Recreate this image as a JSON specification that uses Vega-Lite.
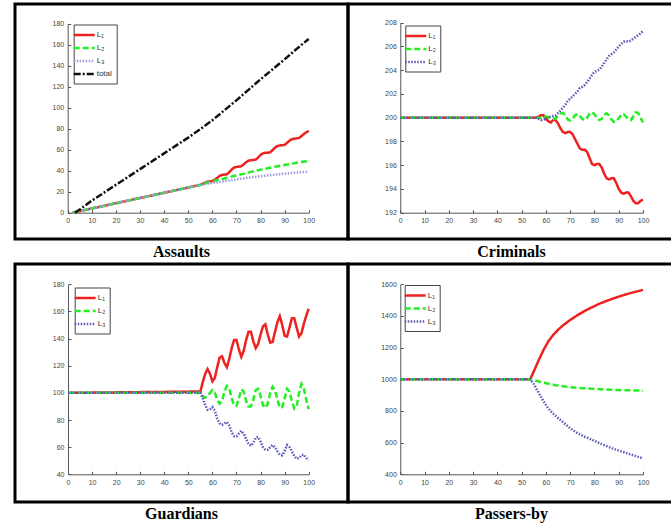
{
"$schema": "https://vega.github.io/schema/vega-lite/v6.json",
"background": "white",
"padding": {"left": 13, "top": 2, "right": 0, "bottom": 0},
"columns": 2,
"spacing": 0,
"bounds": "flush",
"config": {
  "view": {"stroke": "black", "strokeWidth": 3},
  "concat": {"spacing": 0},
  "axis": {"grid": false, "title": null, "domainColor": "#555", "tickColor": "#555", "labelColor": "#444", "labelFont": "Liberation Sans", "labelFontSize": 7, "tickSize": -3, "labelPadding": 7, "labelOverlap": false, "labelFlush": false, "domainWidth": 1, "tickWidth": 1},
  "legend": {"orient": "none", "title": null, "strokeColor": "#444", "fillColor": "white", "padding": 4, "labelFont": "Liberation Sans", "labelFontSize": 8, "labelColor": "#333", "symbolType": "M-2,0H2", "symbolSize": 110, "rowPadding": 1, "labelOffset": 6, "cornerRadius": 0}
},
"datasets": {
"assaults": [
{"x":2,"s":"L₁","v":0},{"x":10,"s":"L₁","v":4},{"x":20,"s":"L₁","v":9},{"x":30,"s":"L₁","v":14},{"x":40,"s":"L₁","v":19},{"x":50,"s":"L₁","v":24},{"x":55,"s":"L₁","v":26.5},
{"x":56,"s":"L₁","v":27.5},{"x":57,"s":"L₁","v":28.5},{"x":58,"s":"L₁","v":29.5},{"x":59,"s":"L₁","v":29.8},{"x":60,"s":"L₁","v":30},{"x":61,"s":"L₁","v":31.5},{"x":62,"s":"L₁","v":33},{"x":63,"s":"L₁","v":35},{"x":64,"s":"L₁","v":36},{"x":65,"s":"L₁","v":36.3},{"x":66,"s":"L₁","v":36.5},{"x":67,"s":"L₁","v":38.5},{"x":68,"s":"L₁","v":41},{"x":69,"s":"L₁","v":43},{"x":70,"s":"L₁","v":43.5},{"x":71,"s":"L₁","v":44},{"x":72,"s":"L₁","v":44.2},{"x":73,"s":"L₁","v":46},{"x":74,"s":"L₁","v":48},{"x":75,"s":"L₁","v":49.5},{"x":76,"s":"L₁","v":50},{"x":77,"s":"L₁","v":50.2},{"x":78,"s":"L₁","v":50.5},{"x":79,"s":"L₁","v":52.5},{"x":80,"s":"L₁","v":55},{"x":81,"s":"L₁","v":56.5},{"x":82,"s":"L₁","v":57},{"x":83,"s":"L₁","v":57.2},{"x":84,"s":"L₁","v":57.5},{"x":85,"s":"L₁","v":59.5},{"x":86,"s":"L₁","v":62},{"x":87,"s":"L₁","v":63.5},{"x":88,"s":"L₁","v":64},{"x":89,"s":"L₁","v":64.3},{"x":90,"s":"L₁","v":64.6},{"x":91,"s":"L₁","v":66.5},{"x":92,"s":"L₁","v":68.5},{"x":93,"s":"L₁","v":70},{"x":94,"s":"L₁","v":70.5},{"x":95,"s":"L₁","v":70.8},{"x":96,"s":"L₁","v":71.2},{"x":97,"s":"L₁","v":73},{"x":98,"s":"L₁","v":75},{"x":99,"s":"L₁","v":76.5},{"x":100,"s":"L₁","v":78},
{"x":2,"s":"L₂","v":0},{"x":10,"s":"L₂","v":4},{"x":20,"s":"L₂","v":9},{"x":30,"s":"L₂","v":14},{"x":40,"s":"L₂","v":19},{"x":50,"s":"L₂","v":24},{"x":55,"s":"L₂","v":26.5},
{"x":57,"s":"L₂","v":27.9},{"x":59,"s":"L₂","v":29.3},{"x":61,"s":"L₂","v":30.5},{"x":63,"s":"L₂","v":31.5},{"x":65,"s":"L₂","v":32.6},{"x":67,"s":"L₂","v":33.8},{"x":69,"s":"L₂","v":35},{"x":71,"s":"L₂","v":36},{"x":73,"s":"L₂","v":37},{"x":75,"s":"L₂","v":38.2},{"x":77,"s":"L₂","v":39.4},{"x":79,"s":"L₂","v":40.5},{"x":81,"s":"L₂","v":41.4},{"x":83,"s":"L₂","v":42.3},{"x":85,"s":"L₂","v":43.3},{"x":87,"s":"L₂","v":44.2},{"x":89,"s":"L₂","v":45},{"x":91,"s":"L₂","v":45.9},{"x":93,"s":"L₂","v":46.7},{"x":95,"s":"L₂","v":47.5},{"x":97,"s":"L₂","v":48.3},{"x":99,"s":"L₂","v":49.1},{"x":100,"s":"L₂","v":49.5},
{"x":2,"s":"L₃","v":0},{"x":10,"s":"L₃","v":4},{"x":20,"s":"L₃","v":9},{"x":30,"s":"L₃","v":14},{"x":40,"s":"L₃","v":19},{"x":50,"s":"L₃","v":24},{"x":55,"s":"L₃","v":26.5},
{"x":60,"s":"L₃","v":28.3},{"x":65,"s":"L₃","v":30},{"x":70,"s":"L₃","v":31.8},{"x":75,"s":"L₃","v":33.3},{"x":80,"s":"L₃","v":34.8},{"x":85,"s":"L₃","v":36},{"x":90,"s":"L₃","v":37.2},{"x":95,"s":"L₃","v":38.2},{"x":100,"s":"L₃","v":39.2},
{"x":3,"s":"total","v":0},{"x":5,"s":"total","v":3},{"x":10,"s":"total","v":11.5},{"x":20,"s":"total","v":26.5},{"x":30,"s":"total","v":41.5},{"x":40,"s":"total","v":56.5},{"x":50,"s":"total","v":71.5},{"x":55,"s":"total","v":79.5},{"x":60,"s":"total","v":88},{"x":65,"s":"total","v":97.5},{"x":70,"s":"total","v":107},{"x":75,"s":"total","v":117},{"x":80,"s":"total","v":127},{"x":85,"s":"total","v":136.5},{"x":90,"s":"total","v":146},{"x":95,"s":"total","v":156},{"x":100,"s":"total","v":165.5}
],
"criminals": [
{"x":0,"s":"L₁","v":200},{"x":56,"s":"L₁","v":200},{"x":57,"s":"L₁","v":200.1},{"x":58,"s":"L₁","v":200.2},{"x":59,"s":"L₁","v":200.2},{"x":60,"s":"L₁","v":199.9},{"x":61,"s":"L₁","v":199.7},{"x":62,"s":"L₁","v":199.6},{"x":63,"s":"L₁","v":199.8},{"x":64,"s":"L₁","v":199.8},{"x":65,"s":"L₁","v":199.5},{"x":66,"s":"L₁","v":199.1},{"x":67,"s":"L₁","v":198.8},{"x":68,"s":"L₁","v":198.7},{"x":69,"s":"L₁","v":198.8},{"x":70,"s":"L₁","v":198.8},{"x":71,"s":"L₁","v":198.6},{"x":72,"s":"L₁","v":198.2},{"x":73,"s":"L₁","v":197.8},{"x":74,"s":"L₁","v":197.4},{"x":75,"s":"L₁","v":197.3},{"x":76,"s":"L₁","v":197.3},{"x":77,"s":"L₁","v":197.1},{"x":78,"s":"L₁","v":196.6},{"x":79,"s":"L₁","v":196.1},{"x":80,"s":"L₁","v":196},{"x":81,"s":"L₁","v":196.1},{"x":82,"s":"L₁","v":196.1},{"x":83,"s":"L₁","v":195.8},{"x":84,"s":"L₁","v":195.3},{"x":85,"s":"L₁","v":194.9},{"x":86,"s":"L₁","v":194.8},{"x":87,"s":"L₁","v":194.9},{"x":88,"s":"L₁","v":194.9},{"x":89,"s":"L₁","v":194.5},{"x":90,"s":"L₁","v":194},{"x":91,"s":"L₁","v":193.7},{"x":92,"s":"L₁","v":193.6},{"x":93,"s":"L₁","v":193.7},{"x":94,"s":"L₁","v":193.7},{"x":95,"s":"L₁","v":193.4},{"x":96,"s":"L₁","v":193},{"x":97,"s":"L₁","v":192.8},{"x":98,"s":"L₁","v":192.8},{"x":99,"s":"L₁","v":193},{"x":100,"s":"L₁","v":193.1},
{"x":0,"s":"L₂","v":200},{"x":56,"s":"L₂","v":200},{"x":58,"s":"L₂","v":200},{"x":59,"s":"L₂","v":200.05},{"x":60,"s":"L₂","v":200.1},{"x":61,"s":"L₂","v":200.05},{"x":62,"s":"L₂","v":199.95},{"x":63,"s":"L₂","v":199.9},{"x":64,"s":"L₂","v":199.95},{"x":65,"s":"L₂","v":200.15},{"x":66,"s":"L₂","v":200.35},{"x":67,"s":"L₂","v":200.4},{"x":68,"s":"L₂","v":200.2},{"x":69,"s":"L₂","v":199.85},{"x":70,"s":"L₂","v":199.75},{"x":71,"s":"L₂","v":199.9},{"x":72,"s":"L₂","v":200.2},{"x":73,"s":"L₂","v":200.3},{"x":74,"s":"L₂","v":200.15},{"x":75,"s":"L₂","v":199.9},{"x":76,"s":"L₂","v":199.8},{"x":77,"s":"L₂","v":200},{"x":78,"s":"L₂","v":200.35},{"x":79,"s":"L₂","v":200.45},{"x":80,"s":"L₂","v":200.3},{"x":81,"s":"L₂","v":199.95},{"x":82,"s":"L₂","v":199.8},{"x":83,"s":"L₂","v":199.9},{"x":84,"s":"L₂","v":200.25},{"x":85,"s":"L₂","v":200.35},{"x":86,"s":"L₂","v":200.2},{"x":87,"s":"L₂","v":199.85},{"x":88,"s":"L₂","v":199.65},{"x":89,"s":"L₂","v":199.7},{"x":90,"s":"L₂","v":199.95},{"x":91,"s":"L₂","v":200.25},{"x":92,"s":"L₂","v":200.3},{"x":93,"s":"L₂","v":200.1},{"x":94,"s":"L₂","v":199.85},{"x":95,"s":"L₂","v":199.8},{"x":96,"s":"L₂","v":200.1},{"x":97,"s":"L₂","v":200.45},{"x":98,"s":"L₂","v":200.4},{"x":99,"s":"L₂","v":200},{"x":100,"s":"L₂","v":199.6},
{"x":0,"s":"L₃","v":200},{"x":56,"s":"L₃","v":200},{"x":57,"s":"L₃","v":199.9},{"x":58,"s":"L₃","v":199.8},{"x":59,"s":"L₃","v":199.85},{"x":60,"s":"L₃","v":199.9},{"x":61,"s":"L₃","v":200},{"x":62,"s":"L₃","v":200.1},{"x":63,"s":"L₃","v":200.15},{"x":64,"s":"L₃","v":200.2},{"x":65,"s":"L₃","v":200.4},{"x":66,"s":"L₃","v":200.6},{"x":67,"s":"L₃","v":200.85},{"x":68,"s":"L₃","v":201.1},{"x":69,"s":"L₃","v":201.4},{"x":70,"s":"L₃","v":201.6},{"x":71,"s":"L₃","v":201.8},{"x":72,"s":"L₃","v":202},{"x":73,"s":"L₃","v":202.2},{"x":74,"s":"L₃","v":202.5},{"x":75,"s":"L₃","v":202.6},{"x":76,"s":"L₃","v":202.75},{"x":77,"s":"L₃","v":203},{"x":78,"s":"L₃","v":203.3},{"x":79,"s":"L₃","v":203.6},{"x":80,"s":"L₃","v":203.85},{"x":81,"s":"L₃","v":203.95},{"x":82,"s":"L₃","v":204.05},{"x":83,"s":"L₃","v":204.3},{"x":84,"s":"L₃","v":204.6},{"x":85,"s":"L₃","v":204.9},{"x":86,"s":"L₃","v":205.2},{"x":87,"s":"L₃","v":205.35},{"x":88,"s":"L₃","v":205.5},{"x":89,"s":"L₃","v":205.75},{"x":90,"s":"L₃","v":206},{"x":91,"s":"L₃","v":206.2},{"x":92,"s":"L₃","v":206.4},{"x":93,"s":"L₃","v":206.45},{"x":94,"s":"L₃","v":206.4},{"x":95,"s":"L₃","v":206.5},{"x":96,"s":"L₃","v":206.65},{"x":97,"s":"L₃","v":206.8},{"x":98,"s":"L₃","v":206.95},{"x":99,"s":"L₃","v":207.1},{"x":100,"s":"L₃","v":207.3}
],
"guardians": [
{"x":0,"s":"L₁","v":100},{"x":55,"s":"L₁","v":101},{"x":56,"s":"L₁","v":108},{"x":57,"s":"L₁","v":114},{"x":58,"s":"L₁","v":117.5},{"x":59,"s":"L₁","v":114},{"x":60,"s":"L₁","v":108.5},{"x":61,"s":"L₁","v":111},{"x":62,"s":"L₁","v":119},{"x":63,"s":"L₁","v":126},{"x":64,"s":"L₁","v":127},{"x":65,"s":"L₁","v":122},{"x":66,"s":"L₁","v":119},{"x":67,"s":"L₁","v":125},{"x":68,"s":"L₁","v":133},{"x":69,"s":"L₁","v":139},{"x":70,"s":"L₁","v":139},{"x":71,"s":"L₁","v":132},{"x":72,"s":"L₁","v":126.5},{"x":73,"s":"L₁","v":131},{"x":74,"s":"L₁","v":139},{"x":75,"s":"L₁","v":145},{"x":76,"s":"L₁","v":145},{"x":77,"s":"L₁","v":138},{"x":78,"s":"L₁","v":133},{"x":79,"s":"L₁","v":136},{"x":80,"s":"L₁","v":143},{"x":81,"s":"L₁","v":149},{"x":82,"s":"L₁","v":150.5},{"x":83,"s":"L₁","v":143},{"x":84,"s":"L₁","v":137},{"x":85,"s":"L₁","v":137.5},{"x":86,"s":"L₁","v":145},{"x":87,"s":"L₁","v":152},{"x":88,"s":"L₁","v":156.5},{"x":89,"s":"L₁","v":150},{"x":90,"s":"L₁","v":142},{"x":91,"s":"L₁","v":141.5},{"x":92,"s":"L₁","v":148},{"x":93,"s":"L₁","v":155},{"x":94,"s":"L₁","v":155},{"x":95,"s":"L₁","v":148},{"x":96,"s":"L₁","v":141.5},{"x":97,"s":"L₁","v":144},{"x":98,"s":"L₁","v":151},{"x":99,"s":"L₁","v":157},{"x":100,"s":"L₁","v":162},
{"x":0,"s":"L₂","v":100},{"x":55,"s":"L₂","v":100},{"x":56,"s":"L₂","v":97.5},{"x":57,"s":"L₂","v":96.5},{"x":58,"s":"L₂","v":97.5},{"x":59,"s":"L₂","v":100},{"x":60,"s":"L₂","v":102},{"x":61,"s":"L₂","v":100},{"x":62,"s":"L₂","v":95},{"x":63,"s":"L₂","v":92},{"x":64,"s":"L₂","v":94},{"x":65,"s":"L₂","v":101},{"x":66,"s":"L₂","v":105},{"x":67,"s":"L₂","v":103},{"x":68,"s":"L₂","v":96},{"x":69,"s":"L₂","v":91},{"x":70,"s":"L₂","v":90.5},{"x":71,"s":"L₂","v":96},{"x":72,"s":"L₂","v":102.5},{"x":73,"s":"L₂","v":101},{"x":74,"s":"L₂","v":94},{"x":75,"s":"L₂","v":90},{"x":76,"s":"L₂","v":90},{"x":77,"s":"L₂","v":95},{"x":78,"s":"L₂","v":102},{"x":79,"s":"L₂","v":103},{"x":80,"s":"L₂","v":98},{"x":81,"s":"L₂","v":91},{"x":82,"s":"L₂","v":89},{"x":83,"s":"L₂","v":92},{"x":84,"s":"L₂","v":100},{"x":85,"s":"L₂","v":104.5},{"x":86,"s":"L₂","v":102},{"x":87,"s":"L₂","v":95},{"x":88,"s":"L₂","v":89},{"x":89,"s":"L₂","v":89.5},{"x":90,"s":"L₂","v":96},{"x":91,"s":"L₂","v":103},{"x":92,"s":"L₂","v":101},{"x":93,"s":"L₂","v":94},{"x":94,"s":"L₂","v":88.5},{"x":95,"s":"L₂","v":90},{"x":96,"s":"L₂","v":100},{"x":97,"s":"L₂","v":106.5},{"x":98,"s":"L₂","v":103},{"x":99,"s":"L₂","v":95},{"x":100,"s":"L₂","v":88},
{"x":0,"s":"L₃","v":100},{"x":55,"s":"L₃","v":100},{"x":56,"s":"L₃","v":96},{"x":57,"s":"L₃","v":91},{"x":58,"s":"L₃","v":87.5},{"x":59,"s":"L₃","v":88},{"x":60,"s":"L₃","v":89.5},{"x":61,"s":"L₃","v":87},{"x":62,"s":"L₃","v":81},{"x":63,"s":"L₃","v":77.5},{"x":64,"s":"L₃","v":76.5},{"x":65,"s":"L₃","v":77.5},{"x":66,"s":"L₃","v":78.5},{"x":67,"s":"L₃","v":76},{"x":68,"s":"L₃","v":71},{"x":69,"s":"L₃","v":68},{"x":70,"s":"L₃","v":68},{"x":71,"s":"L₃","v":70},{"x":72,"s":"L₃","v":72},{"x":73,"s":"L₃","v":70},{"x":74,"s":"L₃","v":66},{"x":75,"s":"L₃","v":62.5},{"x":76,"s":"L₃","v":61},{"x":77,"s":"L₃","v":63},{"x":78,"s":"L₃","v":67},{"x":79,"s":"L₃","v":67.5},{"x":80,"s":"L₃","v":64},{"x":81,"s":"L₃","v":60},{"x":82,"s":"L₃","v":58},{"x":83,"s":"L₃","v":58},{"x":84,"s":"L₃","v":60},{"x":85,"s":"L₃","v":61.5},{"x":86,"s":"L₃","v":60},{"x":87,"s":"L₃","v":57},{"x":88,"s":"L₃","v":54.5},{"x":89,"s":"L₃","v":54},{"x":90,"s":"L₃","v":57},{"x":91,"s":"L₃","v":61.5},{"x":92,"s":"L₃","v":60},{"x":93,"s":"L₃","v":57},{"x":94,"s":"L₃","v":53.5},{"x":95,"s":"L₃","v":51.5},{"x":96,"s":"L₃","v":52},{"x":97,"s":"L₃","v":54},{"x":98,"s":"L₃","v":54.5},{"x":99,"s":"L₃","v":52},{"x":100,"s":"L₃","v":50.5}
],
"passers": [
{"x":0,"s":"L₁","v":1000},{"x":53.5,"s":"L₁","v":1000},{"x":55,"s":"L₁","v":1050},{"x":57,"s":"L₁","v":1120},{"x":59,"s":"L₁","v":1185},{"x":61,"s":"L₁","v":1240},{"x":63,"s":"L₁","v":1280},{"x":65,"s":"L₁","v":1313},{"x":67,"s":"L₁","v":1340},{"x":70,"s":"L₁","v":1375},{"x":73,"s":"L₁","v":1405},{"x":76,"s":"L₁","v":1432},{"x":79,"s":"L₁","v":1455},{"x":82,"s":"L₁","v":1477},{"x":85,"s":"L₁","v":1495},{"x":88,"s":"L₁","v":1512},{"x":91,"s":"L₁","v":1527},{"x":94,"s":"L₁","v":1541},{"x":97,"s":"L₁","v":1553},{"x":100,"s":"L₁","v":1565},
{"x":0,"s":"L₂","v":1000},{"x":53.5,"s":"L₂","v":1000},{"x":55,"s":"L₂","v":995},{"x":58,"s":"L₂","v":982},{"x":61,"s":"L₂","v":972},{"x":64,"s":"L₂","v":963},{"x":67,"s":"L₂","v":956},{"x":70,"s":"L₂","v":950},{"x":75,"s":"L₂","v":944},{"x":80,"s":"L₂","v":939},{"x":85,"s":"L₂","v":935},{"x":90,"s":"L₂","v":932},{"x":95,"s":"L₂","v":930},{"x":100,"s":"L₂","v":928},
{"x":0,"s":"L₃","v":1000},{"x":53.5,"s":"L₃","v":1000},{"x":55,"s":"L₃","v":970},{"x":57,"s":"L₃","v":915},{"x":59,"s":"L₃","v":862},{"x":61,"s":"L₃","v":815},{"x":63,"s":"L₃","v":783},{"x":65,"s":"L₃","v":755},{"x":67,"s":"L₃","v":730},{"x":70,"s":"L₃","v":690},{"x":73,"s":"L₃","v":660},{"x":76,"s":"L₃","v":637},{"x":79,"s":"L₃","v":618},{"x":82,"s":"L₃","v":597},{"x":85,"s":"L₃","v":578},{"x":88,"s":"L₃","v":560},{"x":91,"s":"L₃","v":545},{"x":94,"s":"L₃","v":530},{"x":97,"s":"L₃","v":515},{"x":100,"s":"L₃","v":500}
]
},
"concat": [
 {"width": 333, "height": 235, "data": {"name": "assaults"}, "mark": {"type": "line"},
  "encoding": {
   "x": {"field": "x", "type": "quantitative", "scale": {"domain": [0, 100], "range": [52.7, 293.7], "nice": false, "zero": false}, "axis": {"values": [0,10,20,30,40,50,60,70,80,90,100], "offset": -26.3}},
   "y": {"field": "v", "type": "quantitative", "scale": {"domain": [0, 180], "range": [208.7, 19.7], "nice": false, "zero": false}, "axis": {"values": [0,20,40,60,80,100,120,140,160,180], "offset": -52.7}},
   "color": {"field": "s", "type": "nominal", "scale": {"domain": ["L₁","L₂","L₃","total"], "range": ["#ee2020","#22ee22","#9a9ae0","#111111"]}, "legend": {"legendX": 58.7, "legendY": 20.5}},
   "strokeDash": {"field": "s", "type": "nominal", "scale": {"domain": ["L₁","L₂","L₃","total"], "range": [[1,0],[6,3],[1.5,1.5],[7,2,2,2]]}, "legend": {"legendX": 58.7, "legendY": 20.5}},
   "strokeWidth": {"field": "s", "type": "nominal", "scale": {"domain": ["L₁","L₂","L₃","total"], "range": [2.5,2.5,1.5,2]}, "legend": {"legendX": 58.7, "legendY": 20.5}}
  }},
 {"width": 327, "height": 235, "data": {"name": "criminals"}, "mark": {"type": "line"},
  "encoding": {
   "x": {"field": "x", "type": "quantitative", "scale": {"domain": [0, 100], "range": [52.3, 295], "nice": false, "zero": false}, "axis": {"values": [0,10,20,30,40,50,60,70,80,90,100], "offset": -26.3}},
   "y": {"field": "v", "type": "quantitative", "scale": {"domain": [192, 208], "range": [208.7, 18.7], "nice": false, "zero": false}, "axis": {"values": [192,194,196,198,200,202,204,206,208], "offset": -52.3}},
   "color": {"field": "s", "type": "nominal", "scale": {"domain": ["L₁","L₂","L₃"], "range": ["#ee2020","#22ee22","#5a5ab8"]}, "legend": {"legendX": 57.3, "legendY": 21.5}},
   "strokeDash": {"field": "s", "type": "nominal", "scale": {"domain": ["L₁","L₂","L₃"], "range": [[1,0],[6,3],[1.5,1.5]]}, "legend": {"legendX": 57.3, "legendY": 21.5}},
   "strokeWidth": {"field": "s", "type": "nominal", "scale": {"domain": ["L₁","L₂","L₃"], "range": [2.5,2.5,1.5]}, "legend": {"legendX": 57.3, "legendY": 21.5}}
  }},
 {"width": 333, "height": 25, "data": {"values": [{"c": "Assaults"}]}, "mark": {"type": "text", "font": "Liberation Serif", "fontWeight": "bold", "fontSize": 16, "color": "black"}, "encoding": {"text": {"field": "c"}}},
 {"width": 327, "height": 25, "data": {"values": [{"c": "Criminals"}]}, "mark": {"type": "text", "font": "Liberation Serif", "fontWeight": "bold", "fontSize": 16, "color": "black"}, "encoding": {"text": {"field": "c"}}},
 {"width": 333, "height": 238, "data": {"name": "guardians"}, "mark": {"type": "line"},
  "encoding": {
   "x": {"field": "x", "type": "quantitative", "scale": {"domain": [0, 100], "range": [53, 293.7], "nice": false, "zero": false}, "axis": {"values": [0,10,20,30,40,50,60,70,80,90,100], "offset": -27.7}},
   "y": {"field": "v", "type": "quantitative", "scale": {"domain": [40, 180], "range": [210.3, 20.3], "nice": false, "zero": false}, "axis": {"values": [40,60,80,100,120,140,160,180], "offset": -53}},
   "color": {"field": "s", "type": "nominal", "scale": {"domain": ["L₁","L₂","L₃"], "range": ["#ee2020","#22ee22","#5a5ab8"]}, "legend": {"legendX": 59.7, "legendY": 23.5}},
   "strokeDash": {"field": "s", "type": "nominal", "scale": {"domain": ["L₁","L₂","L₃"], "range": [[1,0],[6,3],[1.5,1.5]]}, "legend": {"legendX": 59.7, "legendY": 23.5}},
   "strokeWidth": {"field": "s", "type": "nominal", "scale": {"domain": ["L₁","L₂","L₃"], "range": [2.5,2.5,1.5]}, "legend": {"legendX": 59.7, "legendY": 23.5}}
  }},
 {"width": 327, "height": 238, "data": {"name": "passers"}, "mark": {"type": "line"},
  "encoding": {
   "x": {"field": "x", "type": "quantitative", "scale": {"domain": [0, 100], "range": [52.3, 295], "nice": false, "zero": false}, "axis": {"values": [0,10,20,30,40,50,60,70,80,90,100], "offset": -27.7}},
   "y": {"field": "v", "type": "quantitative", "scale": {"domain": [400, 1600], "range": [210.3, 20.3], "nice": false, "zero": false}, "axis": {"values": [400,600,800,1000,1200,1400,1600], "offset": -52.3, "format": "d"}},
   "color": {"field": "s", "type": "nominal", "scale": {"domain": ["L₁","L₂","L₃"], "range": ["#ee2020","#22ee22","#5a5ab8"]}, "legend": {"legendX": 56.7, "legendY": 21}},
   "strokeDash": {"field": "s", "type": "nominal", "scale": {"domain": ["L₁","L₂","L₃"], "range": [[1,0],[6,3],[1.5,1.5]]}, "legend": {"legendX": 56.7, "legendY": 21}},
   "strokeWidth": {"field": "s", "type": "nominal", "scale": {"domain": ["L₁","L₂","L₃"], "range": [2.5,2.5,1.5]}, "legend": {"legendX": 56.7, "legendY": 21}}
  }},
 {"width": 333, "height": 24, "data": {"values": [{"c": "Guardians"}]}, "mark": {"type": "text", "font": "Liberation Serif", "fontWeight": "bold", "fontSize": 16, "color": "black"}, "encoding": {"text": {"field": "c"}}},
 {"width": 327, "height": 24, "data": {"values": [{"c": "Passers-by"}]}, "mark": {"type": "text", "font": "Liberation Serif", "fontWeight": "bold", "fontSize": 16, "color": "black"}, "encoding": {"text": {"field": "c"}}}
],
"resolve": {"scale": {"color": "independent", "strokeDash": "independent", "strokeWidth": "independent", "x": "independent", "y": "independent"}, "legend": {"color": "independent", "strokeDash": "independent", "strokeWidth": "independent"}}
}
